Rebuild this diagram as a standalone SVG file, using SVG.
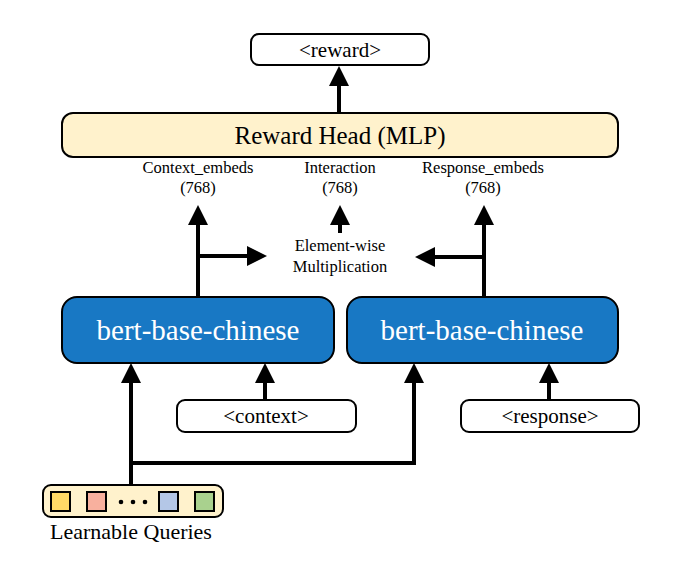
<svg xmlns="http://www.w3.org/2000/svg" width="677" height="584" viewBox="0 0 677 584">
<style>
.t{font-family:'Liberation Serif','Times New Roman',serif;fill:#000;text-anchor:middle}
.box{fill:#fff;stroke:#000;stroke-width:2}
.cream{fill:#FFF2CC;stroke:#000;stroke-width:2}
.blue{fill:#1878C4;stroke:#000;stroke-width:2}
.ln{stroke:#000;stroke-width:4;fill:none}
.sq{stroke:#000;stroke-width:2}
</style>
<defs>
<marker id="ah" viewBox="0 0 20 20" markerWidth="20" markerHeight="20" refX="4" refY="10" orient="auto" markerUnits="userSpaceOnUse">
<path d="M0,0 L20,10 L0,20 z" fill="#000"/>
</marker>
</defs>
<rect width="677" height="584" fill="#fff"/>
<g id="connectors">
<line class="ln" x1="339" y1="113" x2="339" y2="82" marker-end="url(#ah)"/>
<line class="ln" x1="198" y1="297" x2="198" y2="221" marker-end="url(#ah)"/>
<line class="ln" x1="198" y1="256" x2="251" y2="256" marker-end="url(#ah)"/>
<line class="ln" x1="340" y1="233" x2="340" y2="221" marker-end="url(#ah)"/>
<line class="ln" x1="484" y1="297" x2="484" y2="221" marker-end="url(#ah)"/>
<line class="ln" x1="484" y1="257" x2="431" y2="257" marker-end="url(#ah)"/>
<line class="ln" x1="131" y1="485" x2="131" y2="379" marker-end="url(#ah)"/>
<polyline class="ln" points="131,463 414,463 414,379" marker-end="url(#ah)"/>
<line class="ln" x1="265" y1="400" x2="265" y2="379" marker-end="url(#ah)"/>
<line class="ln" x1="549" y1="400" x2="549" y2="379" marker-end="url(#ah)"/>
</g>
<g id="reward">
<rect class="box" x="251" y="34" width="178" height="31" rx="8"/>
<text class="t" x="340" y="57" font-size="21">&lt;reward&gt;</text>
</g>
<g id="reward-head">
<rect class="cream" x="62" y="113" width="556" height="44" rx="11"/>
<text class="t" x="340" y="144" font-size="25">Reward Head (MLP)</text>
</g>
<g id="labels">
<text class="t" x="198" y="173" font-size="16.5">Context_embeds</text>
<text class="t" x="198" y="193" font-size="16.5">(768)</text>
<text class="t" x="340" y="173" font-size="16.5">Interaction</text>
<text class="t" x="340" y="193" font-size="16.5">(768)</text>
<text class="t" x="483" y="173" font-size="16.5">Response_embeds</text>
<text class="t" x="483" y="193" font-size="16.5">(768)</text>
</g>
<g id="multiply">
<text class="t" x="340" y="251" font-size="16.5">Element-wise</text>
<text class="t" x="340" y="272" font-size="16.5">Multiplication</text>
</g>
<g id="bert-left">
<rect class="blue" x="62" y="297" width="272" height="66" rx="15"/>
<text class="t" x="198" y="340" font-size="29" style="fill:#fff">bert-base-chinese</text>
</g>
<g id="bert-right">
<rect class="blue" x="347" y="297" width="271" height="66" rx="15"/>
<text class="t" x="482" y="340" font-size="29" style="fill:#fff">bert-base-chinese</text>
</g>
<g id="context">
<rect class="box" x="177" y="400" width="179" height="32" rx="8"/>
<text class="t" x="266" y="423" font-size="21">&lt;context&gt;</text>
</g>
<g id="response">
<rect class="box" x="461" y="400" width="178" height="32" rx="8"/>
<text class="t" x="550" y="423" font-size="21">&lt;response&gt;</text>
</g>
<g id="learnable-queries">
<rect class="cream" x="43" y="485" width="180" height="32" rx="8"/>
<rect class="sq" x="51" y="492" width="19" height="19" fill="#FFD966"/>
<rect class="sq" x="87" y="492" width="19" height="19" fill="#F8B09E"/>
<circle cx="121" cy="502" r="2.3" fill="#000"/>
<circle cx="133" cy="502" r="2.3" fill="#000"/>
<circle cx="145" cy="502" r="2.3" fill="#000"/>
<rect class="sq" x="159" y="492" width="19" height="19" fill="#B4C7E7"/>
<rect class="sq" x="195" y="492" width="19" height="19" fill="#A9D18E"/>
<text class="t" x="131" y="539" font-size="22">Learnable Queries</text>
</g>
</svg>
